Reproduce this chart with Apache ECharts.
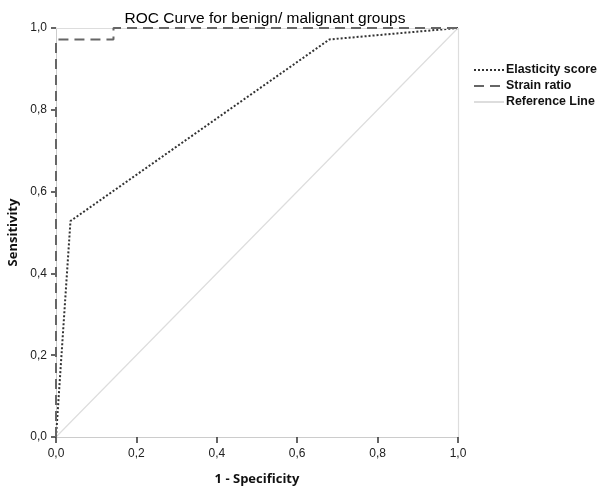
<!DOCTYPE html>
<html><head><meta charset="utf-8">
<script src="https://cdn.jsdelivr.net/npm/echarts@6/dist/echarts.min.js"></script>
<style>html,body{margin:0;padding:0;background:#fff}#c{width:604px;height:488px}</style>
</head><body><div id="c"></div>
<script>
const elasticityX = [0, 0.036, 0.68, 1];
const elasticityY = [0, 0.528, 0.972, 1];
const strainX = [0, 0, 0.143, 0.143, 1];
const strainY = [0, 0.972, 0.972, 1, 1];
const referenceX = [0, 1];
const referenceY = [0, 1];
const seriesNames = ['Elasticity score', 'Strain ratio', 'Reference Line'];
const pair = (xs, ys) => xs.map((x, i) => [x, ys[i]]);
const fmt = v => v.toFixed(1).replace('.', ',');
const chart = echarts.init(document.getElementById('c'));
chart.setOption({
  animation: false,
  title: { text: 'ROC Curve for benign/ malignant groups', left: 260, top: 6, textAlign: 'center',
    textStyle: { fontFamily: 'Liberation Sans', fontSize: 15.5, fontWeight: 'normal', color: '#000' } },
  legend: { orient: 'vertical', left: 468, top: 59, itemGap: 4, itemWidth: 30, itemHeight: 12,
    data: seriesNames, itemStyle: { opacity: 0 },
    textStyle: { fontFamily: 'Liberation Sans', fontWeight: 'bold', fontSize: 12.4, color: '#111', padding: [0, 0, 0, -3] } },
  grid: { left: 56, right: 146, top: 28, bottom: 51, containLabel: false, outerBoundsMode: 'none' },
  xAxis: { type: 'value', min: 0, max: 1, interval: 0.2,
    name: '1 - Specificity', nameLocation: 'middle', nameGap: 36,
    nameTextStyle: { fontFamily: 'Open Sans', fontWeight: 'bold', fontSize: 13, color: '#111' },
    axisLine: { lineStyle: { color: '#ccc' } },
    axisTick: { show: true, inside: false, length: 6, lineStyle: { color: '#333', width: 1.5 } },
    axisLabel: { formatter: fmt, color: '#222', fontSize: 12, fontFamily: 'Liberation Sans', margin: 11 },
    splitLine: { show: false } },
  yAxis: { type: 'value', min: 0, max: 1, interval: 0.2,
    name: 'Sensitivity', nameLocation: 'middle', nameGap: 28,
    nameTextStyle: { fontFamily: 'Open Sans', fontWeight: 'bold', fontSize: 13, color: '#111' },
    axisLine: { show: true, lineStyle: { color: '#ccc' } },
    axisTick: { show: true, inside: false, length: 5, lineStyle: { color: '#333', width: 1.5 } },
    axisLabel: { formatter: fmt, color: '#222', fontSize: 12, fontFamily: 'Liberation Sans', margin: 9 },
    splitLine: { show: false } },
  series: [
    { name: seriesNames[0], type: 'line', data: pair(elasticityX, elasticityY), symbol: 'none', z: 4,
      lineStyle: { color: '#333', width: 2, type: [2, 2] }, itemStyle: { color: '#333' } },
    { name: seriesNames[1], type: 'line', data: pair(strainX, strainY), symbol: 'none', z: 5,
      lineStyle: { color: '#666', width: 2, type: [10, 6] }, itemStyle: { color: '#666' } },
    { name: seriesNames[2], type: 'line', data: pair(referenceX, referenceY), symbol: 'none', z: 2,
      lineStyle: { color: '#ddd', width: 1.2 }, itemStyle: { color: '#ddd' },
      markLine: { silent: true, symbol: 'none', label: { show: false },
        lineStyle: { color: '#ddd', type: 'solid', width: 1.2 },
        data: [ { xAxis: 1 }, { yAxis: 1 } ] } }
  ]
});
</script></body></html>
